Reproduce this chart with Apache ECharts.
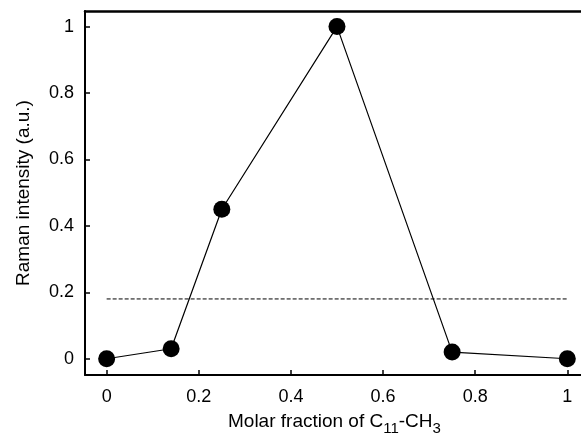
<!DOCTYPE html>
<html><head><meta charset="utf-8">
<script src="https://cdn.jsdelivr.net/npm/echarts@6/dist/echarts.min.js"></script>
<style>html,body{margin:0;padding:0;background:#fff}#c{width:581px;height:434px}</style>
</head><body><div id="c"></div>
<script>
var xValues = [0, 0.14, 0.25, 0.5, 0.75, 1];
var yValues = [0, 0.03, 0.45, 1.0, 0.02, 0];
var thresholdX = [0, 1];
var thresholdY = [0.18, 0.18];
var xTicks = [0, 0.2, 0.4, 0.6, 0.8, 1];
var yTicks = [0, 0.2, 0.4, 0.6, 0.8, 1];

var pts = xValues.map(function(x, i){ return [x, yValues[i]]; });
var dash = thresholdX.map(function(x, i){ return [x, thresholdY[i]]; });
var font = 'Liberation Sans';
function fmtFrom(list){
  return function(v){
    for (var i=0;i<list.length;i++){ if (Math.abs(list[i]-v)<1e-6) return String(list[i]); }
    return '';
  };
}
var XMIN = -0.047, XMAX = 1.0297;
var chart = echarts.init(document.getElementById('c'));
chart.setOption({
  animation: false,
  backgroundColor: '#fff',
  grid: { left: 85, top: 11, right: 0, bottom: 59, show: false, containLabel: false },
  xAxis: [{
    type: 'value', min: XMIN, max: XMAX,
    axisLine: { onZero: false, lineStyle: { color: '#000', width: 2 } },
    axisTick: { inside: true, length: 5, lineStyle: { color: '#000', width: 1.5 }, customValues: xTicks },
    axisLabel: { color: '#000', fontSize: 18, fontFamily: font, margin: 13, customValues: xTicks, formatter: fmtFrom(xTicks) },
    splitLine: { show: false }
  }, {
    type: 'value', position: 'top', min: XMIN, max: XMAX,
    axisLine: { onZero: false, lineStyle: { color: '#000', width: 2.5 } },
    axisTick: { show: false }, axisLabel: { show: false }, splitLine: { show: false }
  }],
  yAxis: {
    type: 'value', min: -0.049, max: 1.047,
    axisLine: { onZero: false, lineStyle: { color: '#000', width: 2 } },
    axisTick: { inside: true, length: 5, lineStyle: { color: '#000', width: 1.5 }, customValues: yTicks },
    axisLabel: { color: '#000', fontSize: 18, fontFamily: font, margin: 11, customValues: yTicks, formatter: fmtFrom(yTicks) },
    splitLine: { show: false },
    name: 'Raman intensity (a.u.)', nameLocation: 'middle', nameGap: 52,
    nameTextStyle: { color: '#000', fontSize: 19, fontFamily: font }
  },
  graphic: [{
    type: 'text', left: 228, top: 412,
    style: {
      text: 'Molar fraction of C{s|11}-CH{s|3}',
      font: '19px "Liberation Sans"', fill: '#000',
      rich: { s: { fontSize: 15, fontFamily: font, fill: '#000', padding: [14, 0, 0, 0] } }
    }
  }],
  series: [{
    type: 'line', data: dash, symbol: 'none',
    lineStyle: { color: '#000', width: 1, type: [4, 2] }, z: 1
  }, {
    type: 'line', data: pts, symbol: 'circle', symbolSize: 17,
    itemStyle: { color: '#000' }, lineStyle: { color: '#000', width: 1.2 }, z: 2
  }]
});
</script></body></html>
